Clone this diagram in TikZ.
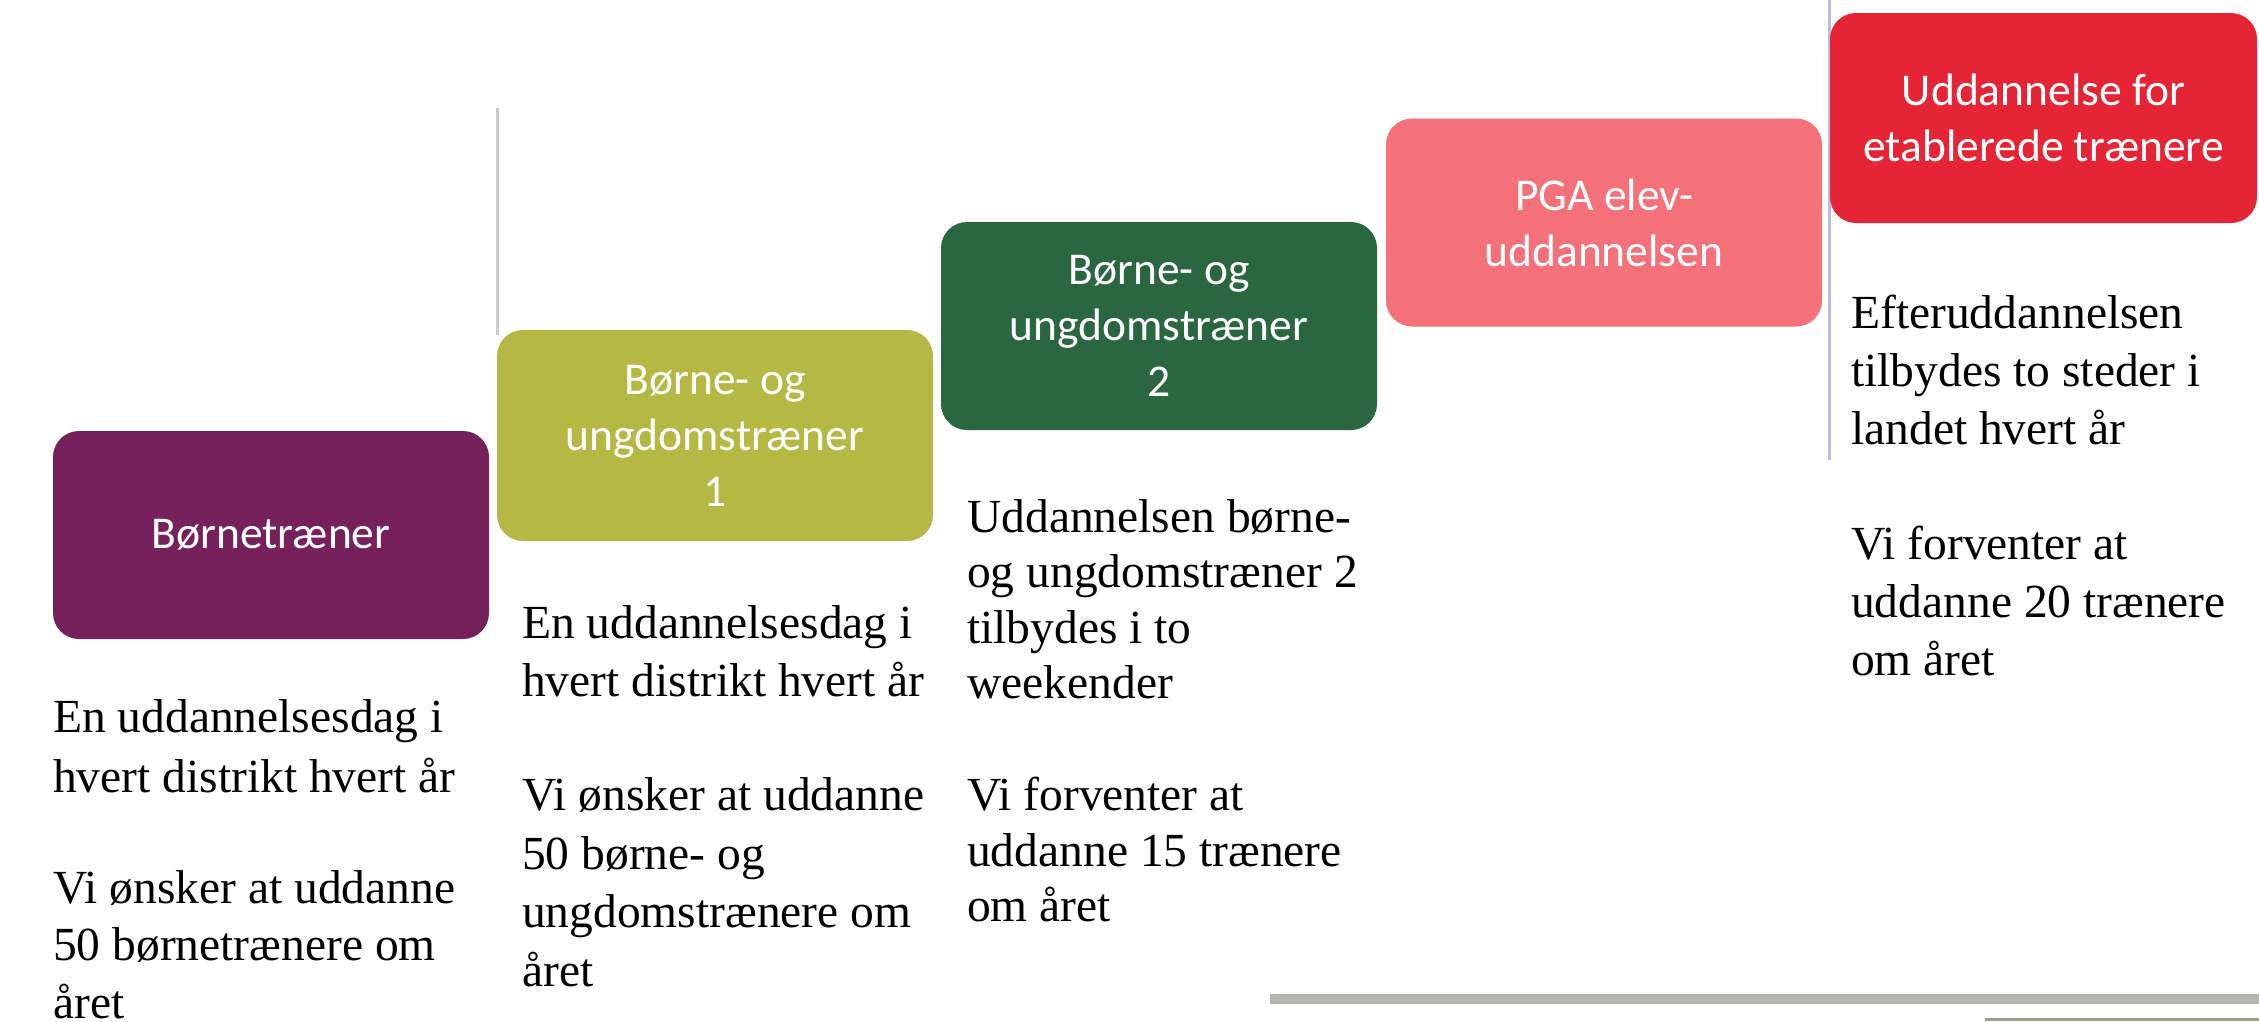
\documentclass[tikz,border=0pt]{standalone}
\usepackage{fontspec}
\setmainfont{Liberation Serif}
\newfontfamily\boxfont{Carlito}
\definecolor{cPurple}{HTML}{76215B}
\definecolor{cOlive}{HTML}{B5B944}
\definecolor{cDarkGreen}{HTML}{2A6741}
\definecolor{cPink}{HTML}{F4717A}
\definecolor{cRed}{HTML}{E52535}
\definecolor{cGuideA}{HTML}{CCCCCC}
\definecolor{cGuideB}{HTML}{B9BDD6}
\definecolor{cBar}{HTML}{B4B5AC}
\definecolor{cBarGreen}{HTML}{8EA58A}
\newcommand\tstrut{\rule{0pt}{40pt}}
\begin{document}
\begin{tikzpicture}[x=1pt,y=-1pt,
  stage/.style={rounded corners=26pt, minimum width=436pt, minimum height=208pt,
    inner sep=0pt, align=center, text=white,
    font={\boxfont\fontsize{45.5}{56}\selectfont}},
  bodytxt/.style={anchor=north west, inner sep=0pt, align=left, text=black},
  guideline/.style={line width=3pt}
]
\useasboundingbox (0,0) rectangle (2259,1021);
\fill[white] (0,0) rectangle (2259,1021);

% faint vertical guides
\coordinate (g1t) at (497,108);
\coordinate (g1b) at (497,335);
\draw[guideline, cGuideA] (g1t) -- (g1b);
\coordinate (g2t) at (1829,0);
\coordinate (g2b) at (1829,460);
\draw[guideline, cGuideB] (g2t) -- (g2b);

% stage boxes
\node[stage, fill=cPurple] (b1) at (271,535) {Børnetræner};
\node[stage, fill=cOlive, minimum height=211pt] (b2) at (715,435.5) {Børne- og\\ungdomstræner\\1};
\node[stage, fill=cDarkGreen] (b3) at (1159,326) {Børne- og\\ungdomstræner\\2};
\node[stage, fill=cPink] (b4) at (1604,222.5) {PGA elev-\\uddannelsen};
\node[stage, fill=cRed, minimum width=427pt, minimum height=210pt] (b5) at (2043.5,118) {Uddannelse for\\etablerede trænere};

% descriptions
\node[bodytxt, font={\fontsize{47.5}{57.5}\selectfont}] (t1) at (53,692)
  {\tstrut En uddannelsesdag i\\[2.5pt]hvert distrikt hvert år\\[53.5pt]Vi ønsker at uddanne\\50 børnetrænere om\\året};
\node[bodytxt, font={\fontsize{47.5}{58.5}\selectfont}] (t2) at (522,598)
  {\tstrut En uddannelsesdag i\\hvert distrikt hvert år\\[55.5pt]Vi ønsker at uddanne\\50 børne- og\\ungdomstrænere om\\året};
\node[bodytxt, font={\fontsize{47.5}{55.5}\selectfont}] (t3) at (967,492)
  {\tstrut Uddannelsen børne-\\og ungdomstræner 2\\tilbydes i to\\weekender\\[56.5pt]Vi forventer at\\uddanne 15 trænere\\om året};
\node[bodytxt, font={\fontsize{47.5}{58}\selectfont}] (t5) at (1851,288)
  {\tstrut Efteruddannelsen\\tilbydes to steder i\\landet hvert år\\[57pt]Vi forventer at\\uddanne 20 trænere\\om året};

% bottom rule bars
\fill[cBar] (1270,994) rectangle (2259,1004);
\fill[cBarGreen] (1985,1018) rectangle (2259,1021);
\end{tikzpicture}
\end{document}
